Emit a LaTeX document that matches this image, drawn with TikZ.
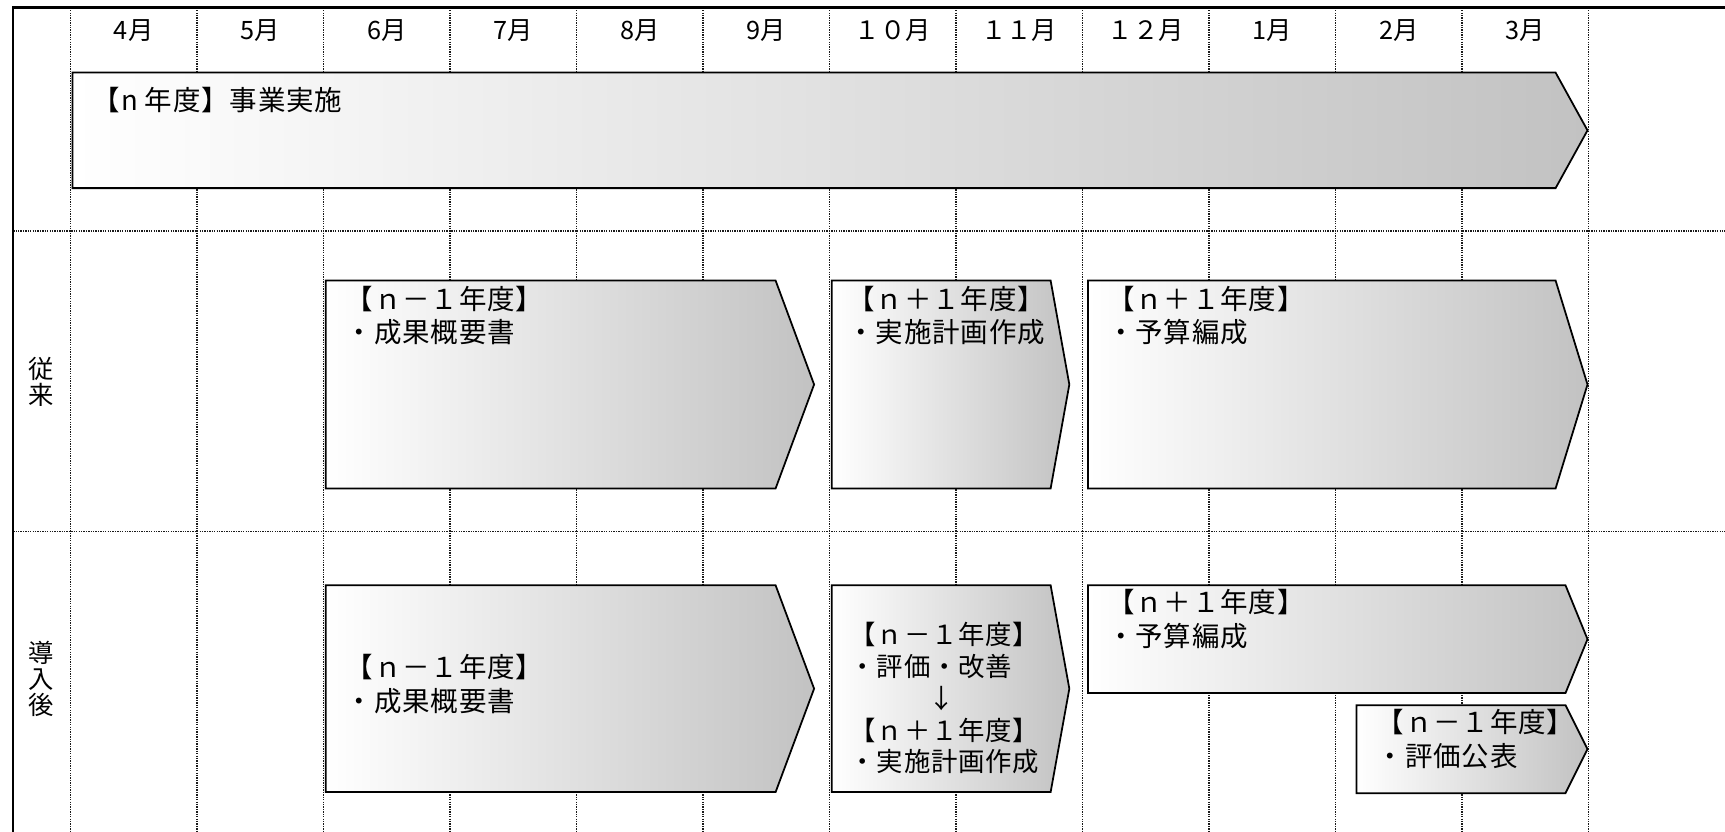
\documentclass[tikz,border=0pt]{standalone}
\usepackage{fontspec}
\setmainfont{Noto Sans CJK JP}
\newfontfamily\boxfont{Noto Sans CJK JP}[LetterSpace=3]
\usepackage{xcolor}
\usepackage{tikz}
\usetikzlibrary{positioning}
\definecolor{gridink}{HTML}{1A1A1A}
\definecolor{shadegray}{HTML}{C2C2C2}
\tikzset{
  every node/.style={text=black},
  outerframe/.style={draw=black,line width=1.1pt},
  gridline/.style={draw=gridink,line width=0.75pt,dash pattern=on 0.6pt off 0.5pt},
  month/.style={font=\fontsize{11.5}{13}\selectfont,inner sep=0pt},
  rowlabel/.style={font=\fontsize{11.5}{11.75}\selectfont,align=center,inner sep=0pt},
  phasebar/.style={draw=black,line width=0.8pt,left color=white,right color=shadegray},
  phasetext/.style={font=\boxfont\fontsize{12.5}{15.2}\selectfont,align=left,inner sep=0pt}
}

\begin{document}
\begin{tikzpicture}[x=0.5pt,y=-0.5pt]
  \useasboundingbox (0,0) rectangle (1568,756);
  % grid
  \foreach \k in {0,...,12}
    \draw[gridline] ({64+115*\k},7) -- ({64+115*\k},756);
  \foreach \y in {210,483}
    \draw[gridline] (12,\y) -- (1568,\y);
  \draw[outerframe] (12,756) -- (12,7) -- (1568,7);

  % header and rows
  \foreach \m [count=\i from 0] in {4月,5月,6月,7月,8月,9月,１０月,１１月,１２月,1月,2月,3月}
    \node[month] (m\i) at ({121.5+115*\i},28) {\m};
  \node[rowlabel] (conv) at (37,347) {従\\来};
  \node[rowlabel] (intro) at (37,617) {導\\入\\後};

  % bars
  \draw[phasebar] (66,66) coordinate (T) -- (1414,66) -- (1443,118.5) -- (1414,171) -- (66,171) -- cycle;
  \draw[phasebar] (296,255) coordinate (A) -- (705,255) -- (740,349.5) -- (705,444) -- (296,444) -- cycle;
  \draw[phasebar] (756,255) coordinate (B) -- (955,255) -- (972,349.5) -- (955,444) -- (756,444) -- cycle;
  \draw[phasebar] (989,255) coordinate (C) -- (1414,255) -- (1443,349.5) -- (1414,444) -- (989,444) -- cycle;
  \draw[phasebar] (296,532) coordinate (D) -- (705,532) -- (740,626) -- (705,720) -- (296,720) -- cycle;
  \draw[phasebar] (756,532) coordinate (E) -- (955,532) -- (972,626) -- (955,720) -- (756,720) -- cycle;
  \draw[phasebar] (989,532) coordinate (F) -- (1423,532) -- (1443,581) -- (1423,630) -- (989,630) -- cycle;
  \draw[phasebar] (1233,641) coordinate (G) -- (1423,641) -- (1443,681) -- (1423,721) -- (1233,721) -- cycle;

  \node[phasetext,below right=6.25pt and 9pt of T] (Ttext) {【n 年度】事業実施};
  \node[phasetext,below right=2.25pt and 9pt of A] (Atext) {【ｎ－１年度】\\・成果概要書};
  \node[phasetext,below right=2.25pt and 7pt of B] (Btext) {【ｎ＋１年度】\\・実施計画作成};
  \node[phasetext,below right=2.25pt and 8.5pt of C] (Ctext) {【ｎ＋１年度】\\・予算編成};
  \node[phasetext,below right=31.25pt and 9pt of D] (Dtext) {【ｎ－１年度】\\・成果概要書};
  \node[phasetext,below right=16.5pt and 8pt of E,font=\boxfont\fontsize{12}{14.5}\selectfont] (Etext) {【ｎ－１年度】\\・評価・改善\\\hspace*{3em}↓\\【ｎ＋１年度】\\・実施計画作成};
  \node[phasetext,below right=1.75pt and 8.5pt of F] (Ftext) {【ｎ＋１年度】\\・予算編成};
  \node[phasetext,below right=1.75pt and 9pt of G] (Gtext) {【ｎ－１年度】\\・評価公表};
\end{tikzpicture}
\end{document}
